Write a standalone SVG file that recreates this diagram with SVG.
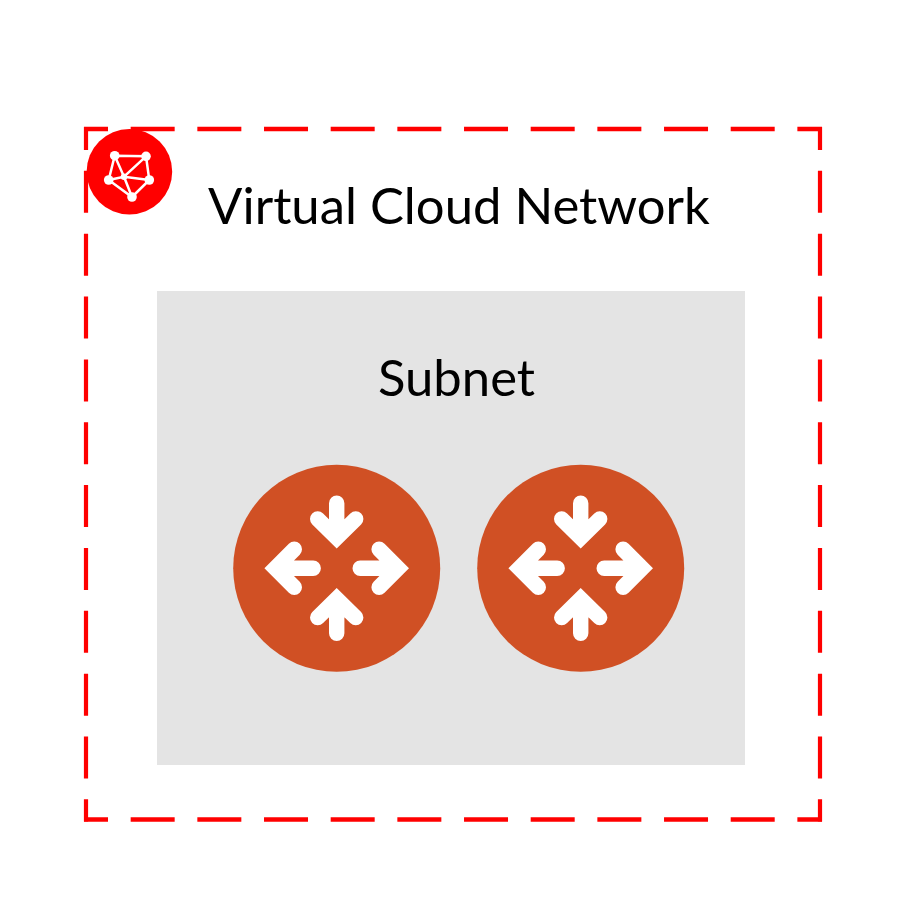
<svg xmlns="http://www.w3.org/2000/svg" width="906" height="906" viewBox="0 0 906 906">
<style>
.lbl{font-family:"Lato","Liberation Sans",sans-serif;font-size:50.8px;fill:#000;text-anchor:middle}
.bh{fill:none;stroke:#f00;stroke-width:4.4;stroke-dasharray:44 22.67;stroke-dashoffset:20}
.bv{fill:none;stroke:#f00;stroke-width:4.2;stroke-dasharray:42 20.85;stroke-dashoffset:19}
.arw{fill:none;stroke:#fff;stroke-width:15.4;stroke-linecap:round;stroke-linejoin:miter;stroke-miterlimit:4}
.net{fill:none;stroke:#fff;stroke-width:2.5}
</style>
<defs>
<g id="router">
<circle r="103.5" fill="#d05024"/>
<path class="arw" d="M0-65V-40M-19-49.3L0-30.6L19-49.3"/>
<path class="arw" d="M0 65V40M-19 49.3L0 30.6L19 49.3"/>
<path class="arw" d="M23.5 0H55M42.4-19L61.4 0L42.4 19"/>
<path class="arw" d="M-23.5 0H-55M-42.4-19L-61.4 0L-42.4 19"/>
</g>
</defs>
<rect width="906" height="906" fill="#fff"/>
<g id="vcn">
<g id="vcn-border">
<line class="bh" x1="84" y1="129" x2="822" y2="129"/>
<line class="bh" x1="84" y1="819.5" x2="822" y2="819.5"/>
<line class="bv" x1="86" y1="127" x2="86" y2="821.6"/>
<line class="bv" x1="820" y1="127" x2="820" y2="821.6"/>
</g>
<text class="lbl" x="459" y="224">Virtual Cloud Network</text>
</g>
<g id="vcn-icon">
<circle cx="129.4" cy="171.7" r="42.8" fill="#f00"/>
<path class="net" d="M114.7 155.7L146 156.3L149.3 180L132 197L108.7 180ZM114.7 155.7L124 176.7L146 156.3M108.7 180L124 176.7L149.3 180M124 176.7L132 197"/>
<g fill="#fff">
<circle cx="114.7" cy="155.7" r="4.8"/>
<circle cx="146" cy="156.3" r="4.8"/>
<circle cx="108.7" cy="180" r="4.8"/>
<circle cx="149.3" cy="180" r="4.8"/>
<circle cx="132" cy="197" r="4.8"/>
<circle cx="124" cy="176.7" r="3.2"/>
</g>
</g>
<g id="subnet">
<rect x="157" y="291" width="588" height="474" fill="#e4e4e4"/>
<text class="lbl" x="456.5" y="396">Subnet</text>
</g>
<g id="router-1"><use href="#router" transform="translate(336.7 568.3)"/></g>
<g id="router-2"><use href="#router" transform="translate(580.7 568.3)"/></g>
<g id="connectors"/>
</svg>
